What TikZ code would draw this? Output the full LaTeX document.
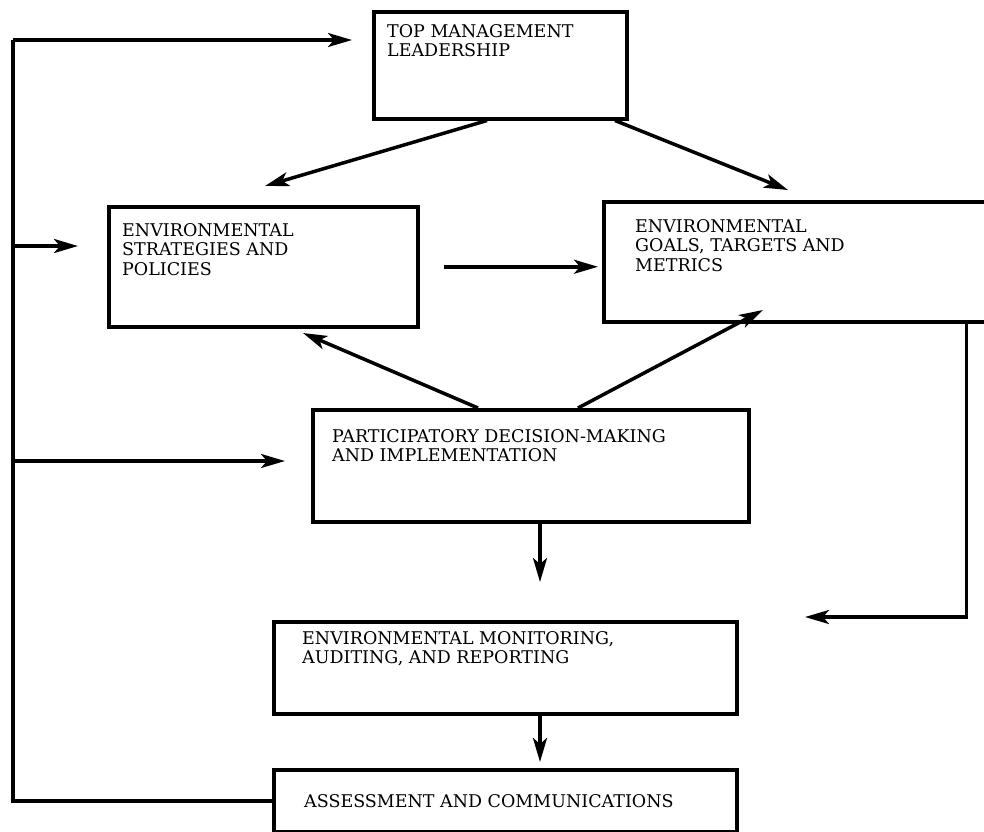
\documentclass[tikz,border=0pt]{standalone}
\usepackage{fontspec}
\setmainfont{DejaVu Serif}
\usetikzlibrary{arrows.meta, positioning}

\begin{document}
\begin{tikzpicture}[
    x=1pt, y=-1pt,
    box/.style={rectangle, draw, line width=3.5pt, anchor=north west, inner sep=0pt},
    boxtext/.style={anchor=north west, align=left, inner xsep=15pt, inner ysep=17pt,
                    font=\fontsize{17.5}{19.5}\selectfont},
    arrow/.style={-{Stealth[length=24pt, width=14pt, inset=6pt]}, line width=3.5pt},
    feed/.style={line width=3.5pt}
]
\useasboundingbox (0,0) rectangle (984,831);

\node[box, minimum width=253pt, minimum height=107pt,
      label={[boxtext, inner ysep=14pt]north west:TOP MANAGEMENT\\LEADERSHIP}] (top) at (372,10) {};
\node[box, minimum width=309pt, minimum height=120pt,
      label={[boxtext, inner ysep=18pt]north west:ENVIRONMENTAL\\STRATEGIES AND\\POLICIES}] (strat) at (107,205) {};
\node[box, minimum width=400pt, minimum height=120pt,
      label={[boxtext, inner xsep=33pt, inner ysep=19pt]north west:ENVIRONMENTAL\\GOALS, TARGETS AND\\METRICS}] (goals) at (602,200) {};
\node[box, minimum width=436pt, minimum height=112pt,
      label={[boxtext, inner xsep=21pt, inner ysep=21pt]north west:PARTICIPATORY DECISION-MAKING\\AND IMPLEMENTATION}] (part) at (311,408) {};
\node[box, minimum width=463pt, minimum height=92pt,
      label={[boxtext, inner xsep=30pt, inner ysep=11pt]north west:ENVIRONMENTAL MONITORING,\\AUDITING, AND REPORTING}] (monit) at (272,620) {};
\node[box, minimum width=463pt, minimum height=62pt,
      label={[boxtext, inner xsep=32pt, anchor=west]west:ASSESSMENT AND COMMUNICATIONS}] (assess) at (272,768) {};

\coordinate (loop) at (13,40);
\coordinate (looptip) at (352,40);
\coordinate (stratin) at (13,246);
\coordinate (stratintip) at (78,246);
\coordinate (partin) at (13,461);
\coordinate (partintip) at (285,461);
\coordinate (stratup) at (265,186);
\coordinate (goalsup) at (788,190);
\coordinate (stratdown) at (303,333);
\coordinate (goalsdown) at (763,310);
\coordinate (monitin) at (805,617);
\coordinate (monittip) at (540,582);
\coordinate (assesstip) at (540,762);

\draw[feed] (assess.west) -| (loop);
\draw[arrow] (loop) -- (looptip);
\draw[arrow] (stratin) -- (stratintip);
\draw[arrow] (partin) -- (partintip);

\draw[arrow] ([xshift=115pt]top.south west) -- (stratup);
\draw[arrow] ([xshift=243pt]top.south west) -- (goalsup);
\draw[arrow] ([xshift=24pt]strat.east) -- ([xshift=-4pt]strat.east -| goals.west);
\draw[arrow] ([xshift=167pt]part.north west) -- (stratdown);
\draw[arrow] ([xshift=267pt]part.north west) -- (goalsdown);
\draw[arrow] ([xshift=-39pt]goals.south east) |- (monitin);
\draw[arrow] ([xshift=229pt]part.south west) -- (monittip);
\draw[arrow] ([xshift=268pt]monit.south west) -- (assesstip);

\end{tikzpicture}
\end{document}
